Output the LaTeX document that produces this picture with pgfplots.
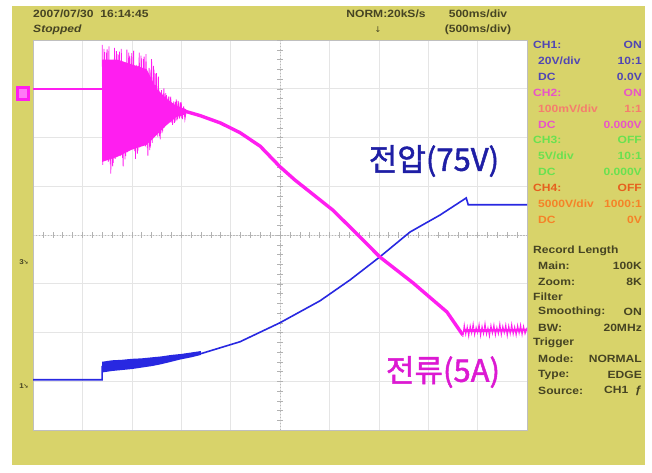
\documentclass[border=0pt]{standalone}
\usepackage{pgfplots}
\pgfplotsset{compat=1.18}
\usepackage{fontspec}
\setmainfont{Liberation Sans}
\newfontfamily\osc[FakeStretch=1.15]{Liberation Sans}
\newfontfamily\kr[FakeBold=1.5]{Noto Sans CJK KR}
\newfontfamily\dvs{DejaVu Sans}
\definecolor{scopebg}{RGB}{216,211,106}
\definecolor{trmag}{RGB}{255,30,240}
\definecolor{trblue}{RGB}{40,40,225}
\definecolor{cho}{RGB}{80,70,180}
\definecolor{cht}{RGB}{232,85,200}
\definecolor{chto}{RGB}{245,125,110}
\definecolor{chg}{RGB}{105,225,80}
\definecolor{chf}{RGB}{230,95,30}
\definecolor{chfo}{RGB}{245,130,40}
\definecolor{olv}{RGB}{70,68,35}
\definecolor{lblue}{RGB}{30,30,165}
\definecolor{lmag}{RGB}{220,25,210}
\newcommand\Lt[4]{\node[anchor=west,inner sep=0pt,text=#4] at (#1bp,#2bp) {\osc\bfseries\fontsize{10.5bp}{12bp}\selectfont #3};}
\newcommand\Rt[4]{\node[anchor=east,inner sep=0pt,text=#4] at (#1bp,#2bp) {\osc\bfseries\fontsize{10.5bp}{12bp}\selectfont #3};}
\begin{document}
\begin{tikzpicture}
\fill[white] (0,0) rectangle (652bp,473bp);
\fill[scopebg] (12bp,8bp) rectangle (645bp,467bp);
\begin{axis}[at={(33bp,43bp)}, anchor=south west, width=494bp, height=390bp, scale only axis,
  xmin=0, xmax=10, ymin=-4, ymax=4,
  xtick={1,...,9}, ytick={-3,...,3}, xticklabels={}, yticklabels={},
  major tick length=0pt, grid=major, grid style={gray!20, line width=0.6pt},
  axis line style={gray!50, line width=0.6pt},
  axis background/.style={fill=white}, clip=true]
\draw[gray!55, line width=0.6pt, dash pattern=on 1.5pt off 1.5pt] (axis cs:0,0) -- (axis cs:10,0);
\draw[gray!55, line width=0.6pt, dash pattern=on 1.5pt off 1.5pt] (axis cs:5,-4) -- (axis cs:5,4);
\pgfplotsinvokeforeach{0.2,0.4,...,9.9}{\draw[gray!60, line width=0.5pt] (axis cs:#1,-0.06) -- (axis cs:#1,0.06);}
\pgfplotsinvokeforeach{-3.8,-3.6,...,3.9}{\draw[gray!60, line width=0.5pt] (axis cs:4.94,#1) -- (axis cs:5.06,#1);}
% CH1 (blue) band and trace
\addplot[fill=trblue, draw=none] coordinates {(1.40,-2.60)(1.6,-2.57)(1.8,-2.56)(2.0,-2.54)(2.2,-2.53)(2.4,-2.51)(2.6,-2.49)(2.8,-2.46)(3.0,-2.44)(3.2,-2.41)(3.4,-2.38)(3.4,-2.46)(3.2,-2.51)(3.0,-2.55)(2.8,-2.60)(2.6,-2.65)(2.4,-2.69)(2.2,-2.72)(2.0,-2.75)(1.8,-2.77)(1.6,-2.79)(1.40,-2.82)} -- cycle;
\addplot[trblue, line width=1.6pt] coordinates {(0,-2.97)(1.40,-2.97)(1.40,-2.70)(2.37,-2.61)(3.38,-2.44)(4.19,-2.19)(5.00,-1.80)(5.81,-1.35)(6.42,-0.92)(7.02,-0.45)(7.63,0.06)(8.24,0.41)(8.77,0.76)(8.81,0.62)(10,0.62)};
% CH2 (magenta)
\addplot[trmag, line width=1.6pt] coordinates {(0,3.0)(1.40,3.0)};
\addplot[fill=trmag, draw=none] coordinates {(1.40,3.6)(1.7,3.6)(2.0,3.5)(2.3,3.4)(2.5,3.0)(2.7,2.8)(2.9,2.65)(3.1,2.58)(3.1,2.48)(2.9,2.42)(2.7,2.25)(2.5,2.05)(2.3,1.85)(2.0,1.75)(1.7,1.6)(1.40,1.5)} -- cycle;
\addplot[trmag, line width=0.8pt] coordinates {
(1.400,3.90)(1.425,1.58)(1.450,3.75)(1.475,1.80)(1.500,3.81)(1.525,1.50)(1.550,3.34)(1.575,1.26)(1.600,3.53)(1.625,1.48)
(1.650,3.84)(1.675,1.69)(1.700,3.71)(1.725,1.90)(1.750,3.76)(1.775,1.62)(1.800,3.33)(1.825,1.41)(1.850,3.51)(1.875,1.62)
(1.900,3.80)(1.925,1.82)(1.950,3.68)(1.975,2.02)(2.000,3.73)(2.025,1.76)(2.050,3.33)(2.075,1.56)(2.100,3.49)(2.125,1.73)
(2.150,3.74)(2.175,1.90)(2.200,3.62)(2.225,2.08)(2.250,3.66)(2.275,1.82)(2.300,3.28)(2.325,1.63)(2.350,3.43)(2.375,1.79)
(2.400,3.61)(2.425,2.00)(2.450,3.39)(2.475,2.16)(2.500,3.32)(2.525,2.02)(2.550,2.96)(2.575,1.96)(2.600,2.97)(2.625,2.13)
(2.650,3.01)(2.675,2.27)(2.700,2.87)(2.725,2.37)(2.750,2.84)(2.775,2.31)(2.800,2.72)(2.825,2.26)(2.850,2.74)(2.875,2.32)
(2.900,2.78)(2.925,2.38)(2.950,2.73)(2.975,2.42)(3.000,2.72)(3.025,2.38)(3.050,2.64)(3.075,2.37)(3.100,2.54)};
\addplot[trmag, line width=0.8pt] coordinates {
(1.4125,1.44)(1.4375,3.82)(1.4625,1.67)(1.4875,3.74)(1.5125,1.62)(1.5375,3.87)(1.5625,1.45)(1.5875,3.34)(1.6125,1.41)(1.6375,3.53)
(1.6625,1.56)(1.6875,3.77)(1.7125,1.77)(1.7375,3.70)(1.7625,1.74)(1.7875,3.82)(1.8125,1.58)(1.8375,3.33)(1.8625,1.55)(1.8875,3.51)
(1.9125,1.70)(1.9375,3.74)(1.9625,1.90)(1.9875,3.67)(2.0125,1.87)(2.0375,3.78)(2.0625,1.72)(2.0875,3.32)(2.1125,1.67)(2.1375,3.47)
(2.1625,1.80)(2.1875,3.68)(2.2125,1.97)(2.2375,3.61)(2.2625,1.93)(2.2875,3.71)(2.3125,1.78)(2.3375,3.28)(2.3625,1.74)(2.3875,3.39)
(2.4125,1.89)(2.4375,3.47)(2.4625,2.07)(2.4875,3.31)(2.5125,2.08)(2.5375,3.25)(2.5625,2.03)(2.5875,2.90)(2.6125,2.09)(2.6375,2.91)
(2.6625,2.21)(2.6875,2.91)(2.7125,2.34)(2.7375,2.84)(2.7625,2.33)(2.7875,2.84)(2.8125,2.30)(2.8375,2.71)(2.8625,2.30)(2.8875,2.73)
(2.9125,2.35)(2.9375,2.75)(2.9625,2.39)(2.9875,2.72)(3.0125,2.40)};
\addplot[trmag, line width=3.4pt] coordinates {(3.04,2.55)(3.38,2.45)(3.79,2.30)(4.19,2.10)(4.60,1.82)(5.00,1.40)(5.30,1.13)(5.71,0.80)(6.07,0.51)(6.52,0.06)(7.02,-0.45)(7.69,-0.98)(8.38,-1.58)(8.70,-2.05)};
\addplot[trmag, line width=2.8pt] coordinates {(8.72,-1.96)(10,-1.95)};
\addplot[trmag, line width=0.9pt] coordinates {
(8.70,-2.09)(8.73,-1.84)(8.76,-2.04)(8.79,-1.88)(8.82,-2.08)(8.85,-1.86)(8.88,-2.02)(8.91,-1.82)(8.94,-2.05)(8.97,-1.89)
(9.00,-2.01)(9.03,-1.83)(9.06,-2.07)(9.09,-1.87)(9.12,-2.03)(9.15,-1.81)(9.18,-2.04)(9.21,-1.90)(9.24,-2.08)(9.27,-1.85)
(9.30,-2.02)(9.33,-1.84)(9.36,-2.06)(9.39,-1.89)(9.42,-2.03)(9.45,-1.82)(9.48,-2.05)(9.51,-1.87)(9.54,-2.01)(9.57,-1.84)
(9.60,-2.07)(9.63,-1.86)(9.66,-2.03)(9.69,-1.83)(9.72,-2.04)(9.75,-1.88)(9.78,-2.06)(9.81,-1.85)(9.84,-2.02)(9.87,-1.84)
(9.90,-2.05)(9.93,-1.87)(9.96,-2.03)(10.0,-1.90)};
\end{axis}
% Korean labels
\node[text=lblue, inner sep=0pt] at (434bp,312bp) {\kr\fontsize{31bp}{34bp}\selectfont 전압(75V)};
\node[text=lmag, inner sep=0pt] at (443bp,101bp) {\kr\fontsize{31bp}{34bp}\selectfont 전류(5A)};
% channel markers
\fill[trmag] (16bp,372bp) rectangle (30bp,387bp);
\fill[trmag!60!white] (19bp,375bp) rectangle (27bp,384bp);
\node[text=olv, inner sep=0pt] at (24bp,211bp) {\osc\bfseries\fontsize{7bp}{8bp}\selectfont 3\kern-0.5pt{\dvs\fontsize{6bp}{7bp}\selectfont ↘}};
\node[text=olv, inner sep=0pt] at (24bp,87bp) {\osc\bfseries\fontsize{7bp}{8bp}\selectfont 1\kern-0.5pt{\dvs\fontsize{6bp}{7bp}\selectfont ↘}};
% top bar
\Lt{33}{459}{2007/07/30\ \ 16:14:45}{olv}
\node[anchor=west,inner sep=0pt,text=olv] at (33bp,443bp) {\osc\bfseries\itshape\fontsize{10.5bp}{12bp}\selectfont Stopped};
\node[inner sep=0pt,text=olv] at (386bp,459bp) {\osc\bfseries\fontsize{10.5bp}{12bp}\selectfont NORM:20kS/s};
\node[inner sep=0pt,text=olv] at (378bp,443bp) {\dvs\fontsize{8bp}{9bp}\selectfont ↓};
\node[inner sep=0pt,text=olv] at (478bp,459bp) {\osc\bfseries\fontsize{10.5bp}{12bp}\selectfont 500ms/div};
\node[inner sep=0pt,text=olv] at (478bp,443bp) {\osc\bfseries\fontsize{10.5bp}{12bp}\selectfont (500ms/div)};
% right panel
\Lt{533}{428}{CH1:}{cho}\Rt{642}{428}{ON}{cho}
\Lt{538}{412}{20V/div}{cho}\Rt{642}{412}{10:1}{cho}
\Lt{538}{396}{DC}{cho}\Rt{642}{396}{0.0V}{cho}
\Lt{533}{380}{CH2:}{cht}\Rt{642}{380}{ON}{cht}
\Lt{538}{364}{100mV/div}{chto}\Rt{642}{364}{1:1}{chto}
\Lt{538}{348}{DC}{cht}\Rt{642}{348}{0.000V}{cht}
\Lt{533}{333}{CH3:}{chg}\Rt{642}{333}{OFF}{chg}
\Lt{538}{317}{5V/div}{chg}\Rt{642}{317}{10:1}{chg}
\Lt{538}{301}{DC}{chg}\Rt{642}{301}{0.000V}{chg}
\Lt{533}{285}{CH4:}{chf}\Rt{642}{285}{OFF}{chf}
\Lt{538}{269}{5000V/div}{chfo}\Rt{642}{269}{1000:1}{chfo}
\Lt{538}{253}{DC}{chfo}\Rt{642}{253}{0V}{chfo}
\Lt{533}{222}{Record Length}{olv}
\Lt{538}{207}{Main:}{olv}\Rt{642}{207}{100K}{olv}
\Lt{538}{191}{Zoom:}{olv}\Rt{642}{191}{8K}{olv}
\Lt{533}{176}{Filter}{olv}
\Lt{538}{161}{Smoothing:}{olv}\Rt{642}{161}{ON}{olv}
\Lt{538}{145}{BW:}{olv}\Rt{642}{145}{20MHz}{olv}
\Lt{533}{130}{Trigger}{olv}
\Lt{538}{114}{Mode:}{olv}\Rt{642}{114}{NORMAL}{olv}
\Lt{538}{98}{Type:}{olv}\Rt{642}{98}{EDGE}{olv}
\Lt{538}{82}{Source:}{olv}\Rt{642}{82}{CH1\ \ ƒ}{olv}
\pgfresetboundingbox
\useasboundingbox (0,0) rectangle (652bp,473bp);
\end{tikzpicture}
\end{document}
